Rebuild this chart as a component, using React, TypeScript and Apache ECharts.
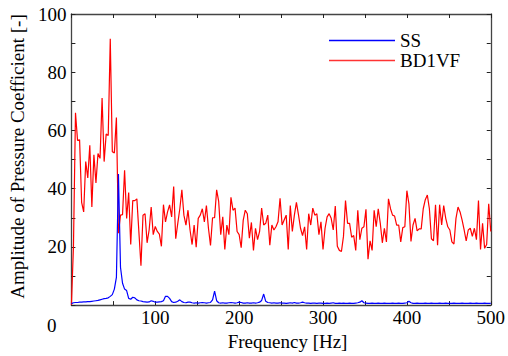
import React, { useEffect, useRef } from "react";
import * as echarts from "echarts";

// Frequency resolution of the spectrum [Hz]
const DF = 500 / 205;

const X_TICKS = [0, 100, 200, 300, 400, 500];
const Y_TICKS = [0, 20, 40, 60, 80, 100];

const SERIES_NAMES = ["SS", "BD1VF"];

// BD1VF amplitude spectrum
const BD1VF = [
  0, 20, 66.1, 56.6, 56.8, 35.3, 32, 49.3, 43.7, 54.9,
  33.7, 51.6, 42, 52.1, 50.4, 71.1, 49.3, 58.8, 58.3, 91.5,
  52.7, 52.3, 64.4, 24.7, 30.9, 31.1, 46.3, 29.8, 38.7, 20.8,
  35.9, 35.9, 36.5, 25, 13.5, 30.9, 31.4, 21.4, 25.8, 33.7,
  24.2, 27, 25.3, 24.4, 20.2, 34.5, 28.6, 32, 34.4, 30.3,
  40.7, 22.8, 28.1, 33.1, 39.6, 30.9, 27.5, 32.6, 25.8, 20.8,
  27.5, 19.9, 29.8, 30.9, 33.1, 28.6, 34.2, 26.4, 20.5, 30,
  30, 39.6, 35.6, 24.2, 30.3, 19.1, 27.5, 24.2, 37, 32.6,
  33.3, 25.3, 24.2, 19.7, 29.2, 32.6, 31.4, 23, 28.4, 18.8,
  26.4, 22.5, 25.3, 33.3, 27.5, 28.1, 30.9, 20.6, 27.5, 25.8,
  26.9, 28.6, 36.7, 27.5, 29.2, 30.9, 19.1, 34.2, 25.3, 30.9,
  35.3, 31.1, 26.4, 23.9, 26.9, 19.1, 31.4, 27.5, 33.3, 30.9,
  31.4, 24.2, 28.6, 19.1, 26.4, 30.3, 31.4, 29.8, 25.8, 34,
  20.2, 18.8, 18.4, 23.6, 35.9, 28.1, 28.1, 23.3, 23.9, 18.8,
  32.6, 22.5, 26.4, 26.9, 32.9, 15.8, 22.1, 18.8, 32.6, 26.9,
  33.1, 28.1, 21.4, 26.4, 21.7, 36.5, 33.1, 30.9, 30.6, 27.5,
  27.5, 21.7, 26.6, 26.9, 39.3, 34.8, 21.9, 27.5, 29.8, 25.5,
  26.2, 26.2, 33.1, 36.2, 37.8, 33.1, 22.8, 22.1,
  34.5, 20.6, 34.5, 27.5, 34.2, 29.8, 26.9, 25.8, 21.7, 21,
  29.8, 33.7, 32, 29.2, 25.8, 22.1, 25.8, 26.4, 23.6, 26.4,
  22.5, 35.9, 19.1, 28.1, 19.5, 20.8, 34.8, 25.3,
];

// SS amplitude spectrum
const SS = [
  0.5, 0.8, 0.9, 0.9, 1.0, 1.0, 1.1, 1.1, 1.2, 1.2,
  1.3, 1.4, 1.5, 1.6, 1.8, 2.0, 2.2, 2.3, 2.5, 3.0,
  3.6, 5.5, 9.5, 45, 13, 7.5, 5.5, 5.0, 2.3, 2.0,
  2.7, 2.5, 1.8, 1.5, 1.4, 1.2, 1.1, 1.0, 1.1, 1.5,
  1.3, 1.0, 1.0, 1.1, 1.2, 1.5, 3.0, 3.0, 2.3, 1.2,
  0.9, 1.0, 1.3, 1.8, 1.2, 0.9, 0.8, 1.0, 1.0, 0.8,
  0.7, 0.8, 0.7, 0.8, 0.9, 0.8, 0.7, 0.8, 0.9, 1.8,
  4.8, 1.5, 0.8, 0.7, 0.8, 0.7, 0.7, 0.8, 0.9, 0.8,
  0.7, 0.8, 1.0, 0.9, 0.7, 0.7, 0.8, 0.7, 0.7, 0.8,
  0.7, 0.8, 1.0, 1.6, 3.8, 1.3, 0.9, 0.8, 0.7, 0.8,
  0.7, 0.7, 0.8, 0.7, 0.7, 0.6, 0.7, 0.8, 0.7, 0.9,
  0.7, 0.7, 0.8, 1.0, 0.8, 0.7, 0.7, 0.6, 0.7, 0.7,
  0.6, 0.7, 0.7, 0.6, 0.6, 0.7, 0.6, 0.7, 0.8, 0.6,
  0.6, 0.7, 0.6, 0.7, 0.6, 0.6, 0.7, 0.6, 0.6, 0.7,
  0.8, 1.0, 1.5, 0.8, 0.7, 0.6, 0.6, 0.7, 0.6, 0.6,
  0.7, 0.6, 0.6, 0.7, 0.6, 0.6, 0.6, 0.7, 0.6, 0.6,
  0.7, 0.6, 0.6, 0.7, 0.8, 1.3, 0.8, 0.6, 0.6, 0.7,
  0.6, 0.6, 0.6, 0.7, 0.6, 0.6, 0.7, 0.6, 0.6, 0.6,
  0.7, 0.6, 0.6, 0.7, 0.6, 0.6, 0.6, 0.7, 0.6, 0.6,
  0.6, 0.7, 0.6, 0.6, 0.6, 0.7, 0.6, 0.6, 0.7, 0.6,
  0.6, 0.6, 0.7, 0.6, 0.6, 0.6,
];

const FONT = "Liberation Serif";
const FRAME = "#444";

function axisCommon() {
  return {
    axisLine: { show: true, onZero: false, lineStyle: { color: FRAME, width: 1.3 } },
    axisTick: { show: true, inside: true, length: 4, lineStyle: { color: "#222", width: 1 } },
    minorTick: { show: true, splitNumber: 2, length: 4, lineStyle: { color: "#222", width: 1 } },
    splitLine: { show: false },
    minorSplitLine: { show: false },
  };
}

export default function App() {
  const ref = useRef<HTMLDivElement>(null);

  useEffect(() => {
    if (!ref.current) return;
    const chart = echarts.init(ref.current, null, { renderer: "svg" });
    const xMin = X_TICKS[0];
    const xMax = X_TICKS[X_TICKS.length - 1];
    const xInt = X_TICKS[1] - X_TICKS[0];
    const yMin = Y_TICKS[0];
    const yMax = Y_TICKS[Y_TICKS.length - 1];
    const yInt = Y_TICKS[1] - Y_TICKS[0];

    chart.setOption({
      animation: false,
      backgroundColor: "#fff",
      grid: { left: 67, right: 16, top: 14, bottom: 44, containLabel: false },
      legend: {
        data: SERIES_NAMES,
        orient: "vertical",
        left: 329,
        top: 31,
        padding: 0,
        icon: "rect",
        itemWidth: 66,
        itemHeight: 1.4,
        itemGap: 1,
        textStyle: { fontFamily: FONT, fontSize: 19, color: "#000" },
      },
      graphic: [
        {
          type: "text",
          left: 47,
          top: 316,
          style: { text: String(X_TICKS[0]), font: "19px Liberation Serif", fill: "#000" },
        },
      ],
      xAxis: [
        {
          type: "value",
          position: "bottom",
          min: xMin,
          max: xMax,
          interval: xInt,
          ...axisCommon(),
          axisLabel: {
            margin: 3,
            fontFamily: FONT,
            fontSize: 19,
            color: "#000",
            formatter: (v: number) => (v === 0 ? "" : String(v)),
          },
          name: "Frequency [Hz]",
          nameLocation: "middle",
          nameGap: 23,
          nameTextStyle: { fontFamily: FONT, fontSize: 19, color: "#000", padding: [0, 0, 0, 13] },
        },
        {
          type: "value",
          position: "top",
          min: xMin,
          max: xMax,
          interval: xInt,
          ...axisCommon(),
          axisLabel: { show: false },
        },
      ],
      yAxis: [
        {
          type: "value",
          position: "left",
          min: yMin,
          max: yMax,
          interval: yInt,
          ...axisCommon(),
          axisLabel: {
            margin: 5,
            fontFamily: FONT,
            fontSize: 19,
            color: "#000",
            formatter: (v: number) => (v === 0 ? "" : String(v)),
          },
          name: "Amplitude of Pressure Coefficient [-]",
          nameLocation: "middle",
          nameGap: 40,
          nameTextStyle: { fontFamily: FONT, fontSize: 19, color: "#000", padding: [0, 0, 0, 6] },
        },
        {
          type: "value",
          position: "right",
          min: yMin,
          max: yMax,
          interval: yInt,
          ...axisCommon(),
          axisLabel: { show: false },
        },
      ],
      series: [
        {
          name: "BD1VF",
          type: "line",
          xAxisIndex: 0,
          yAxisIndex: 0,
          symbol: "none",
          lineStyle: { color: "#ff0000", width: 1.2 },
          itemStyle: { color: "#ff3333" },
          data: BD1VF.map((v, i) => [i * DF, v]),
        },
        {
          name: "SS",
          type: "line",
          xAxisIndex: 0,
          yAxisIndex: 0,
          symbol: "none",
          lineStyle: { color: "#0000ff", width: 1.2 },
          itemStyle: { color: "#0000ff" },
          data: SS.map((v, i) => [i * DF, v]),
        },
      ],
    });
    return () => chart.dispose();
  }, []);

  return <div ref={ref} style={{ width: 508, height: 356, position: "absolute", left: 0, top: 0 }} />;
}
